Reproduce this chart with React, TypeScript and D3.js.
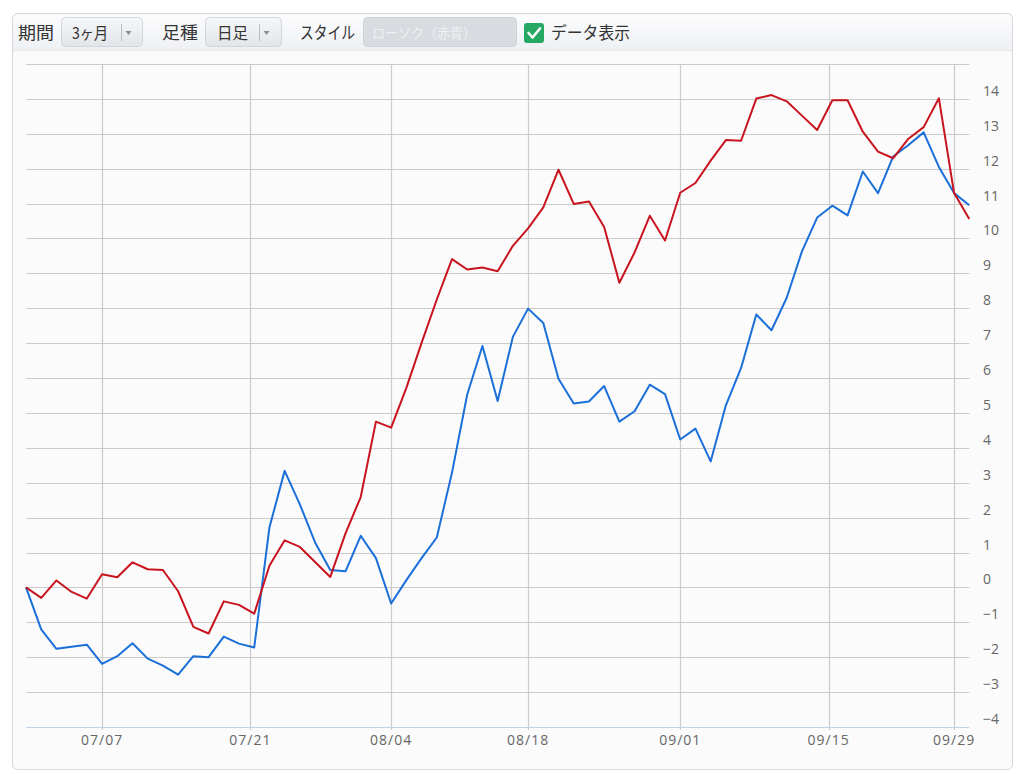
import React from 'react';
import * as d3 from 'd3';

// ---- data ----
const tradingDates: string[] = [
  '2025-06-30', '2025-07-01', '2025-07-02', '2025-07-03', '2025-07-04',
  '2025-07-07', '2025-07-08', '2025-07-09', '2025-07-10', '2025-07-11',
  '2025-07-14', '2025-07-15', '2025-07-16', '2025-07-17', '2025-07-18',
  '2025-07-22', '2025-07-23', '2025-07-24', '2025-07-25',
  '2025-07-28', '2025-07-29', '2025-07-30', '2025-07-31', '2025-08-01',
  '2025-08-04', '2025-08-05', '2025-08-06', '2025-08-07', '2025-08-08',
  '2025-08-12', '2025-08-13', '2025-08-14', '2025-08-15',
  '2025-08-18', '2025-08-19', '2025-08-20', '2025-08-21', '2025-08-22',
  '2025-08-25', '2025-08-26', '2025-08-27', '2025-08-28', '2025-08-29',
  '2025-09-01', '2025-09-02', '2025-09-03', '2025-09-04', '2025-09-05',
  '2025-09-08', '2025-09-09', '2025-09-10', '2025-09-11', '2025-09-12',
  '2025-09-16', '2025-09-17', '2025-09-18', '2025-09-19',
  '2025-09-22', '2025-09-24', '2025-09-25', '2025-09-26',
  '2025-09-29', '2025-09-30',
];

const redSeries: number[] = [
  0, -0.3, 0.2, -0.13, -0.32, 0.38, 0.29, 0.72, 0.52, 0.5,
  -0.11, -1.13, -1.32, -0.4, -0.5, -0.75, 0.62, 1.35, 1.16, 0.73,
  0.3, 1.55, 2.59, 4.75, 4.58, 5.72, 7.01, 8.25, 9.41, 9.11,
  9.17, 9.06, 9.79, 10.29, 10.89, 11.97, 10.99, 11.06, 10.33, 8.73,
  9.6, 10.65, 9.94, 11.31, 11.59, 12.23, 12.82, 12.8, 14.01, 14.11,
  13.93, 13.52, 13.11, 13.96, 13.96, 13.06, 12.49, 12.3, 12.86, 13.19,
  14.02, 11.3, 10.56,
];

const blueSeries: number[] = [
  0, -1.2, -1.76, -1.7, -1.64, -2.19, -1.97, -1.6, -2.04, -2.24,
  -2.5, -1.97, -2.0, -1.41, -1.61, -1.72, 1.72, 3.34, 2.38, 1.29,
  0.5, 0.46, 1.48, 0.84, -0.46, 0.21, 0.84, 1.43, 3.29, 5.53,
  6.92, 5.34, 7.18, 7.99, 7.58, 5.98, 5.27, 5.33, 5.77, 4.75,
  5.05, 5.81, 5.54, 4.24, 4.55, 3.61, 5.22, 6.29, 7.82, 7.37,
  8.3, 9.63, 10.6, 10.94, 10.66, 11.92, 11.3, 12.35, 12.68, 13.04,
  12.05, 11.3, 10.95,
];

const xTickDates: string[] = ['2025-07-07', '2025-07-21', '2025-08-04', '2025-08-18', '2025-09-01', '2025-09-15', '2025-09-29'];
const xTickLabels: string[] = ['07/07', '07/21', '08/04', '08/18', '09/01', '09/15', '09/29'];
const yTicks: number[] = [-4, -3, -2, -1, 0, 1, 2, 3, 4, 5, 6, 7, 8, 9, 10, 11, 12, 13, 14];
const yMin = -4;
const yMax = 15;

const W = 1021;
const H = 774;

const plotLeft = 26;
const plotRight = 969.3;
const plotTop = 64;
const plotBottom = 727;

const RED = '#c8141e';
const BLUE = '#1b6fd8';
const GRID = '#cbcbcb';

const jpFont = '"Noto Sans CJK JP", "Noto Sans", sans-serif';
const tickFont = '"Open Sans", "Noto Sans", sans-serif';

export default function App() {
  const parse = (s: string) => new Date(s + 'T00:00:00').getTime();
  const idx = d3.range(tradingDates.length);
  const x = d3.scaleLinear().domain([0, tradingDates.length - 1]).range([plotLeft, plotRight]);
  // calendar date -> fractional trading-day index (piecewise linear between trading days)
  const dateToIndex = d3.scaleLinear().domain(tradingDates.map(parse)).range(idx);
  const y = d3.scaleLinear().domain([yMin, yMax]).range([plotBottom, plotTop]);

  const line = d3
    .line<number>()
    .x((_, i) => x(i))
    .y((d) => y(d));

  const hLines = d3.range(yMin + 1, yMax + 1);

  return (
    <svg
      width={W}
      height={H}
      style={{ position: 'absolute', left: 0, top: 0, display: 'block', background: '#ffffff' }}
    >
      <defs>
        <linearGradient id="tb" x1="0" y1="0" x2="0" y2="1">
          <stop offset="0" stopColor="#fdfdfe" />
          <stop offset="1" stopColor="#eef0f3" />
        </linearGradient>
        <linearGradient id="btn" x1="0" y1="0" x2="0" y2="1">
          <stop offset="0" stopColor="#f6f7f8" />
          <stop offset="1" stopColor="#e2e5e9" />
        </linearGradient>
        <clipPath id="panelClip">
          <rect x={12} y={13} width={1001} height={757} rx={5} />
        </clipPath>
      </defs>

      {/* panel */}
      <g clipPath="url(#panelClip)">
        <rect x={12} y={13} width={1001} height={757} fill="#fbfbfc" />
        <rect x={12} y={13} width={1001} height={37} fill="url(#tb)" />
        <line x1={12} x2={1013} y1={50.5} y2={50.5} stroke="#e6e9ec" />
      </g>
      <rect x={12.5} y={13.5} width={1000} height={756} rx={5} fill="none" stroke="#d3d8de" />

      {/* toolbar */}
      <g fontFamily={jpFont} fontSize={17} fill="#333">
        <text x={18} y={39} textLength={36} lengthAdjust="spacingAndGlyphs">期間</text>
        <rect x={61.5} y={17.5} width={81} height={29} rx={4} fill="url(#btn)" stroke="#d2d6db" />
        <text x={72} y={39} fontSize={16} textLength={36} lengthAdjust="spacingAndGlyphs">3ヶ月</text>
        <line x1={121.5} x2={121.5} y1={24} y2={41} stroke="#b9bec4" />
        <path d="M125.5,31 L131.5,31 L128.5,35 Z" fill="#8a8f96" />

        <text x={162} y={39} textLength={36} lengthAdjust="spacingAndGlyphs">足種</text>
        <rect x={205.5} y={17.5} width={76} height={29} rx={4} fill="url(#btn)" stroke="#d2d6db" />
        <text x={217} y={39} fontSize={16} textLength={31} lengthAdjust="spacingAndGlyphs">日足</text>
        <line x1={259.5} x2={259.5} y1={24} y2={41} stroke="#b9bec4" />
        <path d="M263.5,31 L269.5,31 L266.5,35 Z" fill="#8a8f96" />

        <text x={300} y={39} textLength={55} lengthAdjust="spacingAndGlyphs">スタイル</text>
        <rect x={363.5} y={17.5} width={153} height={29} rx={4} fill="#d8dce1" stroke="#cfd3d8" />
        <text x={372} y={38} fontSize={14} fill="#eef0f2" textLength={104} lengthAdjust="spacingAndGlyphs">ローソク（赤青）</text>

        <rect x={524} y={23} width={20} height={20} rx={3} fill="#25a862" />
        <path d="M528.5,33 L532.5,37.5 L540,28.5" fill="none" stroke="#ffffff" strokeWidth={2.6} strokeLinecap="round" strokeLinejoin="round" />
        <text x={551} y={39} textLength={79} lengthAdjust="spacingAndGlyphs">データ表示</text>
      </g>

      {/* grid */}
      <g>
        {hLines.map((v) => (
          <line key={'h' + v} x1={plotLeft} x2={plotRight} y1={Math.round(y(v)) + 0.5} y2={Math.round(y(v)) + 0.5} stroke={GRID} strokeWidth={1.2} />
        ))}
        {xTickDates.map((d) => {
          const px = Math.round(x(dateToIndex(parse(d)))) + 0.5;
          return <line key={'v' + d} x1={px} x2={px} y1={plotTop} y2={plotBottom + 3} stroke={GRID} strokeWidth={1.2} />;
        })}
        <line x1={plotLeft} x2={plotRight} y1={Math.round(y(yMin)) + 0.5} y2={Math.round(y(yMin)) + 0.5} stroke="#c3d3e6" strokeWidth={1.2} />
      </g>

      {/* series */}
      <path d={line(blueSeries) || ''} fill="none" stroke={BLUE} strokeWidth={2} strokeLinejoin="round" />
      <path d={line(redSeries) || ''} fill="none" stroke={RED} strokeWidth={2} strokeLinejoin="round" />

      {/* y axis labels */}
      <g fontFamily={tickFont} fontSize={14} fill="#666">
        {yTicks.map((v) => (
          <text key={'yl' + v} x={983} y={y(v) - 3}>
            {v < 0 ? '\u2212' + Math.abs(v) : String(v)}
          </text>
        ))}
      </g>

      {/* x axis labels */}
      <g fontFamily={tickFont} fontSize={14} fill="#666" textAnchor="middle" letterSpacing={1}>
        {xTickDates.map((d, i) => (
          <text key={'xl' + d} x={x(dateToIndex(parse(d)))} y={745}>
            {xTickLabels[i]}
          </text>
        ))}
      </g>
    </svg>
  );
}
